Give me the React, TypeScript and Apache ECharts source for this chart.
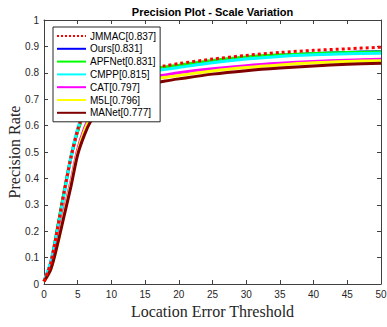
import React, { useEffect, useRef } from "react";
import * as echarts from "echarts";

const xs = [0, 1, 2, 3, 4, 5, 6, 7, 8, 10, 12, 14, 16, 18, 20, 25, 30, 35, 40, 45, 50];

const seriesNames = ["JMMAC[0.837]", "Ours[0.831]", "APFNet[0.831]", "CMPP[0.815]", "CAT[0.797]", "M5L[0.796]", "MANet[0.777]"];
const seriesColors = ["#ff0000", "#0000ff", "#00ff00", "#00ffff", "#ff00ff", "#ffff00", "#800000"];

const jmmac = [0.01, 0.08, 0.21, 0.35, 0.48, 0.585, 0.655, 0.7, 0.73, 0.77, 0.79, 0.806, 0.818, 0.827, 0.835, 0.852, 0.866, 0.877, 0.885, 0.891, 0.897];
const ours = [0.01, 0.08, 0.21, 0.35, 0.48, 0.58, 0.65, 0.695, 0.725, 0.762, 0.782, 0.797, 0.809, 0.818, 0.826, 0.843, 0.856, 0.866, 0.872, 0.877, 0.88];
const apfnet = [0.01, 0.08, 0.21, 0.35, 0.48, 0.58, 0.65, 0.695, 0.725, 0.765, 0.787, 0.802, 0.814, 0.822, 0.829, 0.847, 0.86, 0.868, 0.873, 0.877, 0.879];
const cmpp = [0.012, 0.085, 0.2, 0.34, 0.48, 0.59, 0.655, 0.7, 0.728, 0.76, 0.78, 0.794, 0.805, 0.813, 0.82, 0.838, 0.852, 0.862, 0.868, 0.872, 0.874];
const cat = [0.01, 0.06, 0.16, 0.28, 0.39, 0.51, 0.59, 0.645, 0.68, 0.72, 0.75, 0.77, 0.784, 0.792, 0.8, 0.815, 0.827, 0.836, 0.843, 0.848, 0.851];
const m5l = [0.01, 0.055, 0.15, 0.27, 0.38, 0.5, 0.58, 0.635, 0.67, 0.71, 0.74, 0.76, 0.774, 0.783, 0.79, 0.807, 0.82, 0.83, 0.838, 0.843, 0.846];
const manet = [0.01, 0.055, 0.15, 0.26, 0.37, 0.49, 0.565, 0.62, 0.655, 0.7, 0.728, 0.745, 0.759, 0.769, 0.777, 0.795, 0.808, 0.818, 0.826, 0.832, 0.836];

const allValues = [jmmac, ours, apfnet, cmpp, cat, m5l, manet];

const SANS = "Liberation Sans, Arial, Helvetica, sans-serif";
const SERIF = "Liberation Serif, Times New Roman, serif";
const AXIS_COLOR = "#404040";

export default function App() {
  const ref = useRef<HTMLDivElement>(null);
  useEffect(() => {
    document.body.style.margin = "0";
    if (!ref.current) return;
    const chart = echarts.init(ref.current, null, { renderer: "svg" });
    const tickCommon = { show: true, inside: true, length: 4, lineStyle: { color: AXIS_COLOR } };
    const lineCommon = { show: true, onZero: false, lineStyle: { color: AXIS_COLOR, width: 1 } };
    const series = allValues.map((vals, i) => ({
      name: seriesNames[i],
      type: "line",
      data: xs.map((x, j) => [x, vals[j]]),
      showSymbol: false,
      symbol: "none",
      smooth: 0.3,
      z: i === 0 ? 10 : 2 + i,
      lineStyle: { color: seriesColors[i], width: 3, type: i === 0 ? "dotted" : "solid" },
      itemStyle: { color: seriesColors[i] },
    }));
    chart.setOption({
      animation: false,
      grid: { left: 44, right: 6, top: 20, bottom: 43, containLabel: false, outerBoundsMode: "none" },
      legend: {
        orient: "vertical",
        left: 53,
        top: 27,
        data: seriesNames,
        backgroundColor: "#ffffff",
        borderColor: "#262626",
        borderWidth: 1,
        padding: [4, 4, 4, 3],
        itemWidth: 29,
        itemHeight: 10,
        itemGap: 2.8,
        itemStyle: { opacity: 0, borderWidth: 0 },
        textStyle: { fontFamily: SANS, fontSize: 10, color: "#000", padding: [0, 0, 0, -1] },
        z: 20,
      },
      xAxis: [
        {
          type: "value",
          min: 0,
          max: 50,
          interval: 5,
          position: "bottom",
          name: "Location Error Threshold",
          nameLocation: "middle",
          nameGap: 19,
          nameMoveOverlap: false,
          nameTextStyle: { fontFamily: SERIF, fontSize: 16, color: "#262626" },
          axisLine: lineCommon,
          axisTick: tickCommon,
          axisLabel: { fontFamily: SANS, fontSize: 10, color: "#262626", margin: 5 },
          splitLine: { show: false },
        },
        {
          type: "value",
          min: 0,
          max: 50,
          interval: 5,
          position: "top",
          name: "Precision Plot - Scale Variation",
          nameLocation: "middle",
          nameGap: 3,
          nameMoveOverlap: false,
          nameTextStyle: { fontFamily: SANS, fontSize: 11, fontWeight: "bold", color: "#000" },
          axisLine: lineCommon,
          axisTick: tickCommon,
          axisLabel: { show: false },
          splitLine: { show: false },
        },
      ],
      yAxis: [
        {
          type: "value",
          min: 0,
          max: 1,
          interval: 0.1,
          position: "left",
          name: "Precision Rate",
          nameLocation: "middle",
          nameGap: 22,
          nameMoveOverlap: false,
          nameTextStyle: { fontFamily: SERIF, fontSize: 16, color: "#262626" },
          axisLine: lineCommon,
          axisTick: tickCommon,
          axisLabel: { fontFamily: SANS, fontSize: 10, color: "#262626", margin: 5 },
          splitLine: { show: false },
        },
        {
          type: "value",
          min: 0,
          max: 1,
          interval: 0.1,
          position: "right",
          axisLine: lineCommon,
          axisTick: tickCommon,
          axisLabel: { show: false },
          splitLine: { show: false },
        },
      ],
      series,
    });
    return () => chart.dispose();
  }, []);
  return <div ref={ref} style={{ width: 387, height: 327 }} />;
}
